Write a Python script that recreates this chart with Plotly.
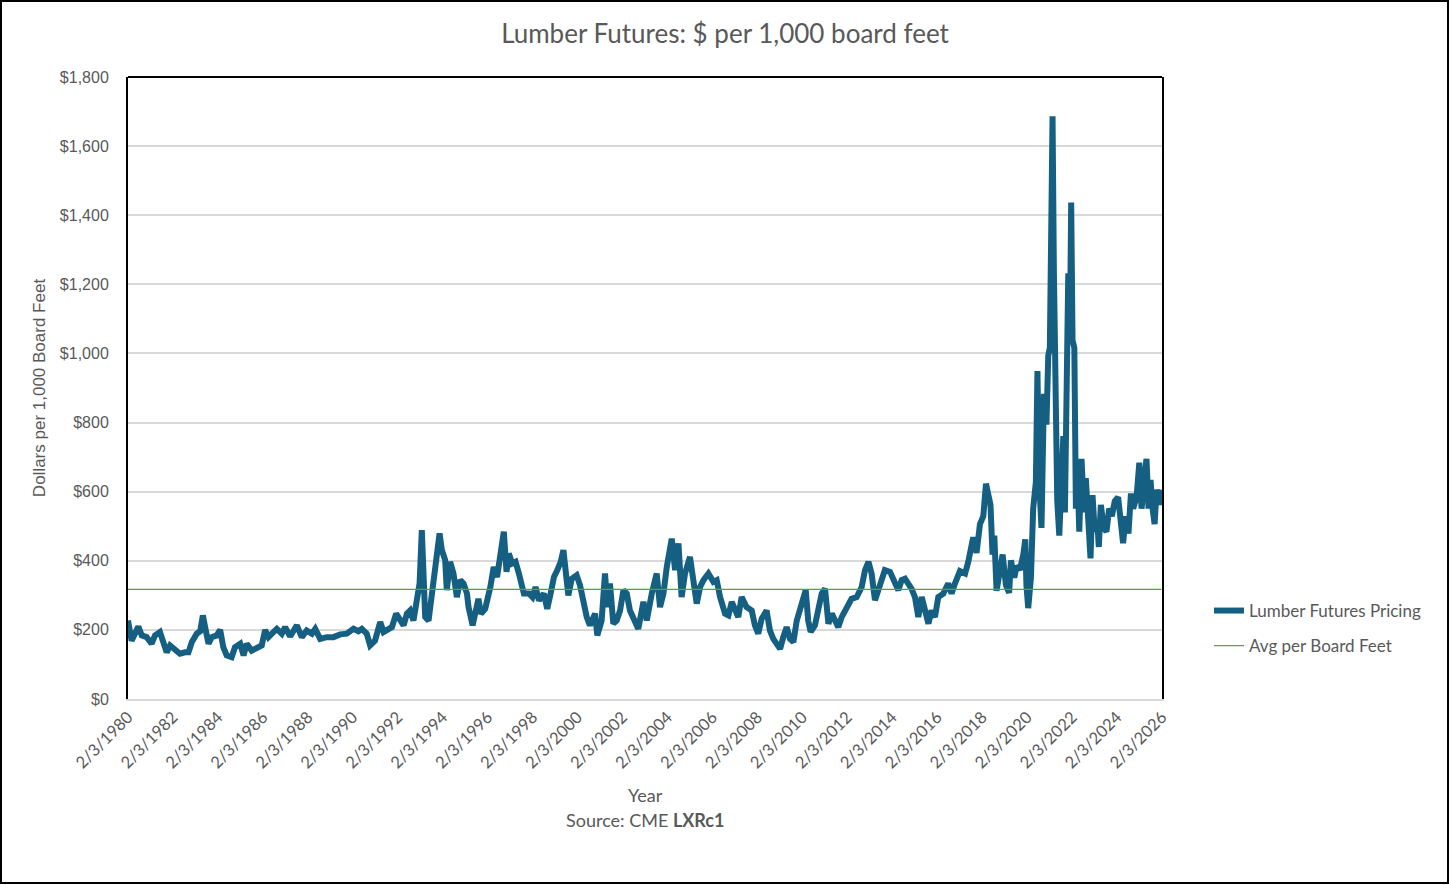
import pandas as pd
import plotly.graph_objects as go

# Precio de futuros de madera (USD por 1,000 pies tablares), leído del gráfico
# fecha como año decimal
anio = [
    1980.09, 1980.25, 1980.40, 1980.55, 1980.70, 1980.92, 1981.14, 1981.29, 1981.51, 1981.66,
    1981.81, 1981.96, 1982.18, 1982.40, 1982.63, 1982.78, 1982.93, 1983.15, 1983.30, 1983.42,
    1983.52, 1983.67, 1983.82, 1984.04, 1984.19, 1984.33, 1984.48, 1984.70, 1984.85, 1985.08,
    1985.23, 1985.37, 1985.59, 1985.82, 1986.04, 1986.19, 1986.34, 1986.49, 1986.71, 1986.93,
    1987.08, 1987.30, 1987.60, 1987.82, 1988.04, 1988.27, 1988.42, 1988.64, 1988.93, 1989.23,
    1989.53, 1989.82, 1990.12, 1990.34, 1990.49, 1990.71, 1990.86, 1991.08, 1991.31, 1991.46,
    1991.68, 1991.83, 1992.02, 1992.20, 1992.35, 1992.50, 1992.64, 1992.79, 1992.94, 1993.06,
    1993.16, 1993.23, 1993.31, 1993.46, 1993.61, 1993.75, 1993.95, 1994.05, 1994.20, 1994.27,
    1994.42, 1994.57, 1994.72, 1994.87, 1995.02, 1995.17, 1995.24, 1995.42, 1995.53, 1995.68,
    1995.79, 1995.98, 1996.21, 1996.36, 1996.51, 1996.66, 1996.81, 1996.93, 1997.03, 1997.18,
    1997.33, 1997.48, 1997.70, 1997.93, 1998.08, 1998.22, 1998.37, 1998.59, 1998.74, 1998.89,
    1999.04, 1999.19, 1999.34, 1999.46, 1999.61, 1999.68, 1999.83, 2000.05, 2000.20, 2000.35,
    2000.50, 2000.64, 2000.87, 2000.97, 2001.16, 2001.31, 2001.42, 2001.53, 2001.68, 2001.83,
    2001.98, 2002.13, 2002.28, 2002.42, 2002.57, 2002.79, 2003.02, 2003.17, 2003.39, 2003.61,
    2003.76, 2003.91, 2004.06, 2004.28, 2004.43, 2004.58, 2004.72, 2004.87, 2005.09, 2005.24,
    2005.39, 2005.54, 2005.69, 2005.91, 2006.13, 2006.28, 2006.43, 2006.65, 2006.80, 2006.95,
    2007.09, 2007.24, 2007.39, 2007.61, 2007.84, 2007.98, 2008.13, 2008.28, 2008.50, 2008.65,
    2008.80, 2008.95, 2009.10, 2009.24, 2009.39, 2009.54, 2009.69, 2009.84, 2009.99, 2010.13,
    2010.24, 2010.35, 2010.46, 2010.65, 2010.80, 2010.95, 2011.10, 2011.25, 2011.40, 2011.54,
    2011.69, 2011.84, 2012.06, 2012.28, 2012.51, 2012.73, 2012.88, 2013.03, 2013.17, 2013.32,
    2013.47, 2013.62, 2013.76, 2013.99, 2014.14, 2014.36, 2014.51, 2014.66, 2014.80, 2014.95,
    2015.10, 2015.25, 2015.40, 2015.55, 2015.70, 2015.84, 2015.99, 2016.14, 2016.36, 2016.58,
    2016.73, 2016.88, 2017.10, 2017.33, 2017.47, 2017.69, 2017.84, 2017.99, 2018.14, 2018.26,
    2018.36, 2018.46, 2018.55, 2018.63, 2018.73, 2018.88, 2019.00, 2019.15, 2019.29, 2019.37,
    2019.52, 2019.62, 2019.77, 2019.92, 2020.01, 2020.06, 2020.14, 2020.26, 2020.36, 2020.48,
    2020.55, 2020.63, 2020.73, 2020.84, 2020.95, 2021.03, 2021.10, 2021.18, 2021.22, 2021.28,
    2021.34, 2021.43, 2021.52, 2021.61, 2021.70, 2021.77, 2021.84, 2021.92, 2021.99, 2022.05,
    2022.11, 2022.19, 2022.26, 2022.33, 2022.41, 2022.51, 2022.62, 2022.70, 2022.81, 2022.91,
    2023.00, 2023.10, 2023.21, 2023.28, 2023.37, 2023.50, 2023.62, 2023.74, 2023.86, 2023.99,
    2024.14, 2024.25, 2024.36, 2024.48, 2024.60, 2024.71, 2024.81, 2024.96, 2025.08, 2025.18,
    2025.30, 2025.40, 2025.49, 2025.58, 2025.67, 2025.76, 2025.85, 2025.97, 2026.07,
]
precio = [
    227, 169, 189, 210, 184, 179, 160, 184, 194, 169,
    135, 155, 145, 131, 135, 135, 165, 189, 196, 242,
    208, 160, 179, 184, 200, 150, 126, 121, 150, 160,
    126, 160, 140, 150, 155, 200, 179, 189, 203, 189,
    208, 181, 213, 179, 198, 189, 203, 174, 179, 179,
    187, 189, 203, 196, 203, 189, 155, 169, 223, 194,
    203, 208, 247, 232, 213, 247, 256, 227, 290, 334,
    489, 382, 237, 227, 305, 382, 479, 431, 402, 315,
    397, 363, 295, 344, 334, 305, 266, 213, 256, 290,
    247, 261, 324, 382, 353, 431, 484, 368, 421, 392,
    397, 363, 305, 305, 295, 324, 285, 305, 261, 305,
    353, 373, 397, 431, 353, 300, 348, 358, 329, 281,
    237, 213, 247, 184, 227, 363, 266, 334, 218, 227,
    256, 315, 305, 256, 232, 203, 281, 227, 305, 363,
    266, 305, 382, 464, 373, 450, 295, 363, 411, 344,
    276, 324, 344, 363, 339, 344, 295, 247, 242, 281,
    256, 237, 295, 266, 256, 213, 189, 232, 256, 198,
    174, 160, 145, 179, 208, 174, 165, 227, 266, 286,
    315, 227, 194, 213, 256, 305, 319, 218, 247, 227,
    208, 237, 266, 290, 295, 324, 373, 397, 363, 286,
    315, 353, 373, 368, 344, 315, 344, 348, 334, 319,
    295, 237, 295, 256, 218, 256, 237, 295, 305, 334,
    305, 334, 370, 363, 397, 468, 423, 506, 529, 623,
    584, 562, 418, 473, 313, 362, 418, 329, 307, 401,
    351, 385, 374, 418, 462, 329, 263, 351, 551, 628,
    949, 628, 495, 883, 794, 994, 1016, 1459, 1686, 1237,
    772, 573, 473, 595, 761, 540, 1082, 1232, 1027, 1437,
    1038, 1016, 551, 662, 484, 695, 540, 639, 518, 407,
    590, 484, 518, 440, 562, 495, 484, 551, 529, 573,
    584, 495, 451, 529, 479, 595, 551, 584, 684, 551,
    628, 695, 551, 634, 551, 506, 606, 562, 606,
]

promedio = 317  # línea del promedio
anios_ticks = list(range(1980, 2027, 2))

fechas = [pd.Timestamp(int(a), 1, 1) + pd.Timedelta(days=(a - int(a)) * 365.25) for a in anio]
tick_vals = [pd.Timestamp(a, 2, 3) for a in anios_ticks]
tick_text = [f"2/3/{a}" for a in anios_ticks]

gris = "#595959"
fuente = "Lato, Open Sans, sans-serif"
arial = "Liberation Sans, Arial, sans-serif"

fig = go.Figure()
fig.add_trace(go.Scatter(
    x=fechas, y=precio, mode="lines", name="Lumber Futures Pricing",
    line=dict(color="#156082", width=6), legendgroup="a",
))
fig.add_trace(go.Scatter(
    x=[fechas[0], fechas[-1]], y=[promedio, promedio], mode="lines",
    name="Avg per Board Feet", line=dict(color="#4EA72E", width=1.2), legendgroup="b",
))

# marco exterior y borde superior del área de trazado
fig.add_shape(type="rect", xref="paper", yref="paper",
              x0=-127 / 1034, x1=1320 / 1034, y0=-184 / 622, y1=698 / 622,
              line=dict(color="black", width=2))
fig.add_shape(type="line", xref="paper", yref="paper", x0=0, x1=1, y0=1, y1=1,
              line=dict(color="black", width=2))

fig.add_annotation(text="Year", xref="paper", yref="paper", x=0.5, y=-109 / 622,
                   showarrow=False, font=dict(family=fuente, size=18, color=gris))
fig.add_annotation(text="Source: CME <b>LXRc1</b>", xref="paper", yref="paper", x=0.5,
                   y=-134 / 622, showarrow=False, font=dict(family=fuente, size=18, color=gris))

fig.update_layout(
    width=1450, height=885,
    margin=dict(l=128, r=288, t=77, b=186),
    paper_bgcolor="white", plot_bgcolor="white",
    title=dict(text="Lumber Futures: $ per 1,000 board feet", x=0.5, xanchor="center",
               y=1 - 34 / 885, yanchor="middle",
               font=dict(family=fuente, size=26, color=gris)),
    showlegend=True,
    legend=dict(x=1081 / 1034, y=(699 - 593) / 622, xanchor="left", yanchor="top",
                font=dict(family=fuente, size=17, color=gris),
                traceorder="grouped", tracegroupgap=10, bgcolor="rgba(0,0,0,0)"),
    xaxis=dict(
        type="date", range=[tick_vals[0], tick_vals[-1]],
        tickmode="array", tickvals=tick_vals, ticktext=tick_text, tickangle=-45,
        tickfont=dict(family=fuente, size=16.5, color=gris),
        showgrid=False, showline=True, linecolor="#D9D9D9", linewidth=2,
        ticks="", zeroline=False,
    ),
    yaxis=dict(
        range=[0, 1800], tickmode="linear", tick0=0, dtick=200,
        tickprefix="$", tickformat=",.0f",
        tickfont=dict(family=arial, size=16, color=gris),
        ticklabelstandoff=14,
        showgrid=True, gridcolor="#D9D9D9", gridwidth=1.5,
        showline=True, linecolor="black", linewidth=2, mirror=True,
        zeroline=False, ticks="",
        title=dict(text="Dollars per 1,000 Board Feet", standoff=10,
                   font=dict(family=arial, size=17, color=gris)),
    ),
)

# quitar el margen del body para que la figura ocupe la ventana exacta
fig.write_html("out.html", config={"displayModeBar": False},
               post_script="document.body.style.margin='0';")
